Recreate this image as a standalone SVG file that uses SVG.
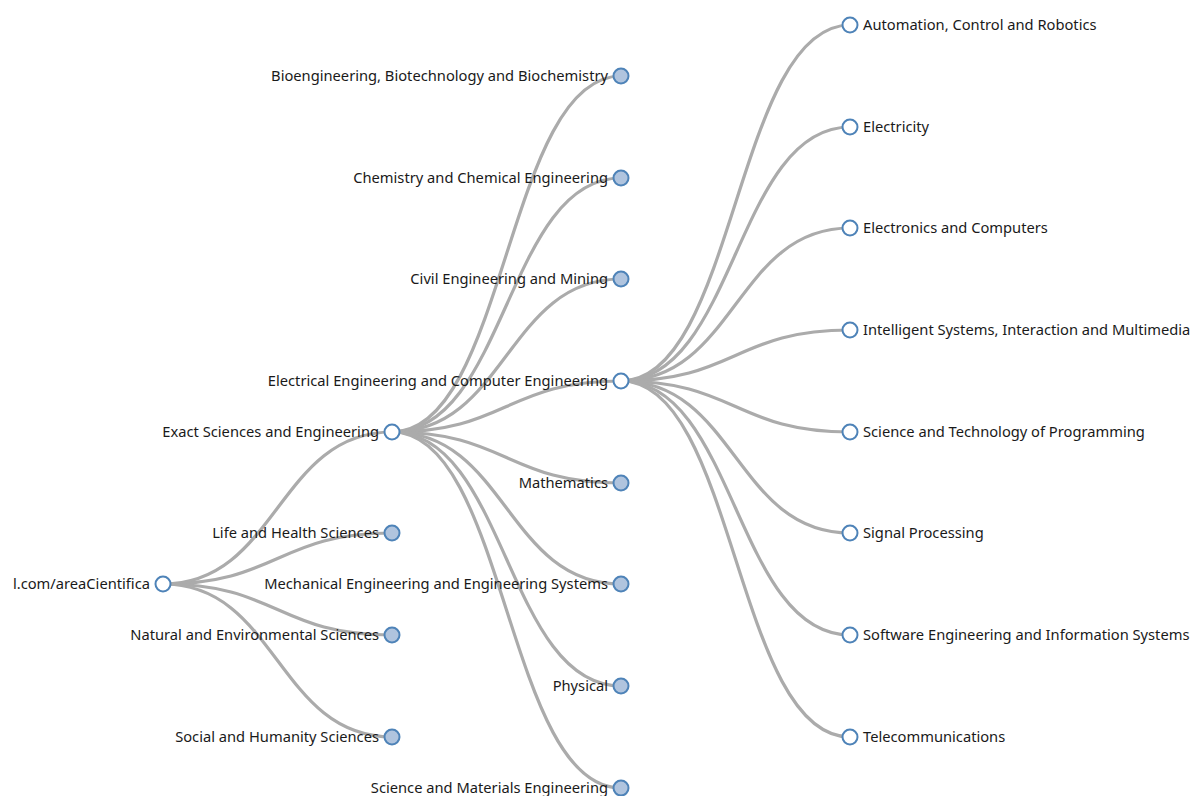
<svg xmlns="http://www.w3.org/2000/svg" width="1193" height="796" viewBox="0 0 1193 796">
<style>
.link{fill:none;stroke:#ababab;stroke-width:3.2}
.node circle{stroke:#4e83b8;stroke-width:2}
.open{fill:#fff}
.closed{fill:#b0c4de}
text{font-family:"Noto Sans","Open Sans",sans-serif;font-size:14.7px;fill:#1a1a1a;dominant-baseline:central;transform:translateY(-1px)}
.l{text-anchor:end}
</style>
<rect width="1193" height="796" fill="#fff"/>
<g id="links">
<path class="link" d="M163,584C277.5,584 277.5,432 392,432"/>
<path class="link" d="M163,584C277.5,584 277.5,533 392,533"/>
<path class="link" d="M163,584C277.5,584 277.5,635 392,635"/>
<path class="link" d="M163,584C277.5,584 277.5,737 392,737"/>
<path class="link" d="M392,432C506.5,432 506.5,76 621,76"/>
<path class="link" d="M392,432C506.5,432 506.5,178 621,178"/>
<path class="link" d="M392,432C506.5,432 506.5,279 621,279"/>
<path class="link" d="M392,432C506.5,432 506.5,381 621,381"/>
<path class="link" d="M392,432C506.5,432 506.5,483 621,483"/>
<path class="link" d="M392,432C506.5,432 506.5,584 621,584"/>
<path class="link" d="M392,432C506.5,432 506.5,686 621,686"/>
<path class="link" d="M392,432C506.5,432 506.5,788 621,788"/>
<path class="link" d="M621,381C735.5,381 735.5,25 850,25"/>
<path class="link" d="M621,381C735.5,381 735.5,127 850,127"/>
<path class="link" d="M621,381C735.5,381 735.5,228 850,228"/>
<path class="link" d="M621,381C735.5,381 735.5,330 850,330"/>
<path class="link" d="M621,381C735.5,381 735.5,432 850,432"/>
<path class="link" d="M621,381C735.5,381 735.5,533 850,533"/>
<path class="link" d="M621,381C735.5,381 735.5,635 850,635"/>
<path class="link" d="M621,381C735.5,381 735.5,737 850,737"/>
</g>
<g id="root" class="node"><circle class="open" cx="163" cy="584" r="7.5"/><text class="l" x="150" y="584">l.com/areaCientifica</text></g>
<g id="exact" class="node"><circle class="open" cx="392" cy="432" r="7.5"/><text class="l" x="379" y="432">Exact Sciences and Engineering</text></g>
<g id="life" class="node"><circle class="closed" cx="392" cy="533" r="7.5"/><text class="l" x="379" y="533">Life and Health Sciences</text></g>
<g id="natural" class="node"><circle class="closed" cx="392" cy="635" r="7.5"/><text class="l" x="379" y="635">Natural and Environmental Sciences</text></g>
<g id="social" class="node"><circle class="closed" cx="392" cy="737" r="7.5"/><text class="l" x="379" y="737">Social and Humanity Sciences</text></g>
<g id="bio" class="node"><circle class="closed" cx="621" cy="76" r="7.5"/><text class="l" x="608" y="76">Bioengineering, Biotechnology and Biochemistry</text></g>
<g id="chem" class="node"><circle class="closed" cx="621" cy="178" r="7.5"/><text class="l" x="608" y="178">Chemistry and Chemical Engineering</text></g>
<g id="civil" class="node"><circle class="closed" cx="621" cy="279" r="7.5"/><text class="l" x="608" y="279">Civil Engineering and Mining</text></g>
<g id="elec" class="node"><circle class="open" cx="621" cy="381" r="7.5"/><text class="l" x="608" y="381">Electrical Engineering and Computer Engineering</text></g>
<g id="math" class="node"><circle class="closed" cx="621" cy="483" r="7.5"/><text class="l" x="608" y="483">Mathematics</text></g>
<g id="mech" class="node"><circle class="closed" cx="621" cy="584" r="7.5"/><text class="l" x="608" y="584">Mechanical Engineering and Engineering Systems</text></g>
<g id="phys" class="node"><circle class="closed" cx="621" cy="686" r="7.5"/><text class="l" x="608" y="686">Physical</text></g>
<g id="mat" class="node"><circle class="closed" cx="621" cy="788" r="7.5"/><text class="l" x="608" y="788">Science and Materials Engineering</text></g>
<g id="auto" class="node"><circle class="open" cx="850" cy="25" r="7.5"/><text x="863" y="25">Automation, Control and Robotics</text></g>
<g id="electricity" class="node"><circle class="open" cx="850" cy="127" r="7.5"/><text x="863" y="127">Electricity</text></g>
<g id="electronics" class="node"><circle class="open" cx="850" cy="228" r="7.5"/><text x="863" y="228">Electronics and Computers</text></g>
<g id="intel" class="node"><circle class="open" cx="850" cy="330" r="7.5"/><text x="863" y="330">Intelligent Systems, Interaction and Multimedia</text></g>
<g id="sci" class="node"><circle class="open" cx="850" cy="432" r="7.5"/><text x="863" y="432">Science and Technology of Programming</text></g>
<g id="signal" class="node"><circle class="open" cx="850" cy="533" r="7.5"/><text x="863" y="533">Signal Processing</text></g>
<g id="soft" class="node"><circle class="open" cx="850" cy="635" r="7.5"/><text x="863" y="635">Software Engineering and Information Systems</text></g>
<g id="tele" class="node"><circle class="open" cx="850" cy="737" r="7.5"/><text x="863" y="737">Telecommunications</text></g>
</svg>
